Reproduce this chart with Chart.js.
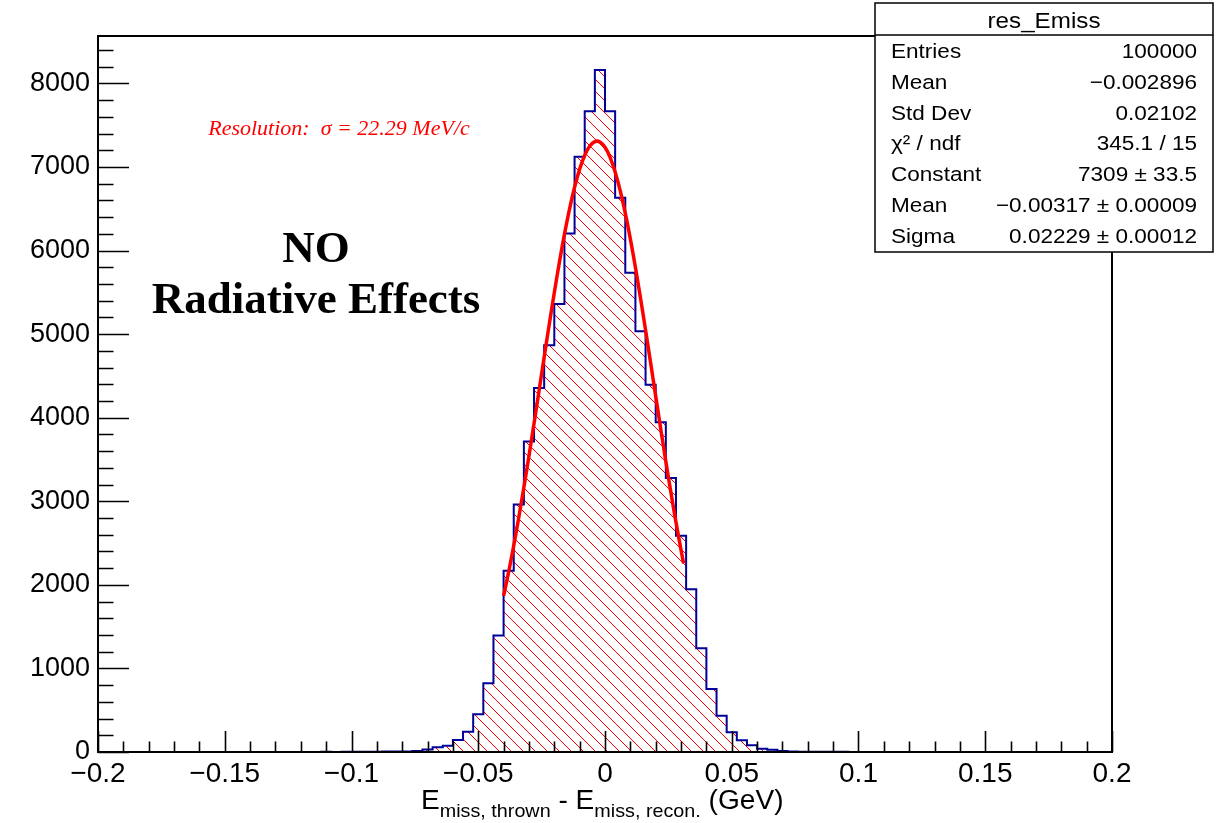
<!DOCTYPE html>
<html>
<head>
<meta charset="utf-8">
<script src="https://cdn.jsdelivr.net/npm/chart.js@4.4.1/dist/chart.umd.min.js"></script>
<style>
html,body{margin:0;padding:0;background:#fff;}
#wrap{position:relative;width:1228px;height:823px;}
</style>
</head>
<body>
<div id="wrap"><canvas id="c" width="1228" height="823"></canvas></div>
<script>
// ---------------- data ----------------
const binLow = -0.2;
const binWidth = 0.004;
const counts = [
  0,0,0,1,0,0,0,1,0,0,
  0,1,0,0,1,0,1,1,0,1,
  1,1,2,1,2,3,3,4,5,5,
  7,12,30,58,75,144,243,451,823,1393,
  2168,2960,3716,4356,4866,5361,6204,7122,7668,8159,
  7668,6631,5733,5034,4395,3944,3278,2587,1948,1242,
  754,433,235,140,80,38,28,12,6,4,
  3,3,2,2,1,1,1,0,1,0,
  0,1,0,0,1,0,0,0,1,0,
  0,0,0,1,0,0,0,0,0,0
];
const fitX = [-0.040,-0.038,-0.036,-0.034,-0.032,-0.030,-0.028,-0.026,-0.024,-0.022,
              -0.020,-0.018,-0.016,-0.014,-0.012,-0.010,-0.008,-0.006,-0.004,-0.002,
               0.000, 0.002, 0.004, 0.006, 0.008, 0.010, 0.012, 0.014, 0.016, 0.018,
               0.020, 0.022, 0.024, 0.026, 0.028, 0.030, 0.031];
const fitY = [1867,2156,2470,2808,3167,3542,3930,4326,4723,5116,
              5496,5858,6193,6496,6757,6974,7139,7250,7304,7299,
              7235,7115,6941,6716,6447,6139,5798,5433,5050,4656,
              4258,3863,3477,3104,2750,2416,2257];
const xTickValues = [-0.2,-0.15,-0.1,-0.05,0,0.05,0.1,0.15,0.2];
const xTickLabels = ['\u22120.2','\u22120.15','\u22120.1','\u22120.05','0','0.05','0.1','0.15','0.2'];
const yTickValues = [0,1000,2000,3000,4000,5000,6000,7000,8000];
const yTickLabels = ['0','1000','2000','3000','4000','5000','6000','7000','8000'];
const xRange = [-0.2, 0.2];
const yRange = [0, 8567];
const statsTitle = 'res_Emiss';
const statsLabels = ['Entries','Mean','Std Dev','\u03C7\u00B2 / ndf','Constant','Mean','Sigma'];
const statsValues = ['100000','\u22120.002896','0.02102','345.1 / 15','7309 \u00B1 33.5','\u22120.00317 \u00B1 0.00009','0.02229 \u00B1 0.00012'];
const resolutionText = 'Resolution:  \u03C3 = 22.29 MeV/c';
const bigText = ['NO', 'Radiative Effects'];

// ---------------- helpers ----------------
const histPoints = counts.map((c, i) => ({x: binLow + i * binWidth, y: c}));
histPoints.push({x: binLow + counts.length * binWidth, y: counts[counts.length - 1]});
const fitPoints = fitX.map((x, i) => ({x: x, y: fitY[i]}));

const canvas = document.getElementById('c');
const hatch = (() => {
  const n = 12;
  const c = document.createElement('canvas');
  c.width = n; c.height = n;
  const g = c.getContext('2d');
  g.strokeStyle = '#ff0000';
  g.lineWidth = 1;
  g.beginPath();
  for (const k of [-n, 0, n]) { g.moveTo(k, 0); g.lineTo(k + n, n); }
  g.stroke();
  return canvas.getContext('2d').createPattern(c, 'repeat');
})();

const SANS = '"Liberation Sans", Arial, Helvetica, sans-serif';
const SERIF = '"Liberation Serif", "Times New Roman", serif';
const HS = 1.1; // horizontal stretch of Helvetica-like text

function stretchedText(ctx, text, x, y, font, align, sx) {
  ctx.save();
  ctx.font = font;
  ctx.textBaseline = 'alphabetic';
  ctx.textAlign = 'left';
  const w = ctx.measureText(text).width * sx;
  let left = x;
  if (align === 'center') left = x - w / 2;
  else if (align === 'right') left = x - w;
  ctx.translate(left, y);
  ctx.scale(sx, 1);
  ctx.fillText(text, 0, 0);
  ctx.restore();
  return w;
}

const rootDecor = {
  id: 'rootDecor',
  afterDatasetsDraw(chart) {
    const {ctx, chartArea: a, scales: {x, y}} = chart;
    ctx.save();
    ctx.strokeStyle = '#000';
    ctx.lineWidth = 1.6;
    ctx.beginPath();
    for (let i = 0; i <= 40; i++) {
      const v = xRange[0] + i * 0.01;
      const px = Math.round(x.getPixelForValue(v)) + 0.5;
      const len = (i % 5 === 0) ? 21 : 10.5;
      ctx.moveTo(px, a.bottom);
      ctx.lineTo(px, a.bottom - len);
    }
    for (let i = 0; i * 200 <= yRange[1]; i++) {
      const v = i * 200;
      const py = Math.round(y.getPixelForValue(v)) + 0.5;
      const len = (i % 5 === 0) ? 31 : 15.5;
      ctx.moveTo(a.left, py);
      ctx.lineTo(a.left + len, py);
    }
    ctx.stroke();
    ctx.lineWidth = 2;
    ctx.strokeRect(a.left, a.top, a.right - a.left, a.bottom - a.top);
    ctx.restore();
  },
  afterDraw(chart) {
    const ctx = chart.ctx;
    ctx.save();
    ctx.fillStyle = '#000';
    // x-axis title with subscripts
    let cx = 421;
    const base = 809, subBase = 817;
    const mainF = '27px ' + SANS, subF = '19px ' + SANS, tS = 1.04;
    cx += stretchedText(ctx, 'E', cx, base, mainF, 'left', tS);
    cx += stretchedText(ctx, 'miss, thrown', cx, subBase, subF, 'left', tS);
    cx += stretchedText(ctx, ' - ', cx, base, mainF, 'left', tS);
    cx += stretchedText(ctx, 'E', cx, base, mainF, 'left', tS);
    cx += stretchedText(ctx, 'miss, recon.', cx, subBase, subF, 'left', tS);
    stretchedText(ctx, ' (GeV)', cx, base, mainF, 'left', tS);

    // red resolution text
    ctx.fillStyle = '#ff0000';
    ctx.font = 'italic 22px ' + SERIF;
    ctx.textAlign = 'center';
    ctx.textBaseline = 'alphabetic';
    ctx.fillText(resolutionText, 339, 135);

    // big bold label
    ctx.fillStyle = '#000';
    ctx.font = 'bold 45px ' + SERIF;
    ctx.fillText(bigText[0], 316, 262);
    ctx.fillText(bigText[1], 316, 313);

    // stats box
    const bx = 875, by = 3, bw = 338, bh = 249;
    ctx.fillStyle = '#fff';
    ctx.fillRect(bx, by, bw, bh);
    ctx.strokeStyle = '#000';
    ctx.lineWidth = 1.5;
    ctx.strokeRect(bx, by, bw, bh);
    ctx.beginPath();
    ctx.moveTo(bx, 35);
    ctx.lineTo(bx + bw, 35);
    ctx.stroke();
    ctx.fillStyle = '#000';
    stretchedText(ctx, statsTitle, bx + bw / 2, 28, '22px ' + SANS, 'center', HS);
    for (let i = 0; i < statsLabels.length; i++) {
      const yb = 58 + i * 30.8;
      stretchedText(ctx, statsLabels[i], 891, yb, '20.5px ' + SANS, 'left', HS);
      stretchedText(ctx, statsValues[i], 1197, yb, '20.5px ' + SANS, 'right', HS);
    }
    ctx.restore();
  }
};

new Chart(canvas, {
  type: 'line',
  data: {
    datasets: [
      {
        label: 'fit',
        data: fitPoints,
        borderColor: '#ff0000',
        borderWidth: 3.5,
        pointRadius: 0,
        fill: false,
        tension: 0.35,
        order: 0
      },
      {
        label: 'res_Emiss',
        data: histPoints,
        stepped: true,
        borderColor: '#000099',
        borderWidth: 2,
        pointRadius: 0,
        fill: 'origin',
        backgroundColor: hatch,
        order: 1
      }
    ]
  },
  options: {
    responsive: false,
    animation: false,
    devicePixelRatio: 1,
    layout: {padding: {top: 36, right: 116, left: 0, bottom: 0}},
    plugins: {legend: {display: false}, tooltip: {enabled: false}},
    scales: {
      x: {
        type: 'linear',
        min: xRange[0],
        max: xRange[1],
        grid: {display: false},
        border: {display: false},
        afterFit: s => { s.height = 71; },
        afterBuildTicks: s => { s.ticks = xTickValues.map(v => ({value: v})); },
        ticks: {
          autoSkip: false,
          maxRotation: 0,
          padding: -3,
          color: '#000',
          font: {family: SANS, size: 28},
          callback: (v, i) => xTickLabels[i]
        }
      },
      y: {
        type: 'linear',
        min: yRange[0],
        max: yRange[1],
        grid: {display: false},
        border: {display: false},
        afterFit: s => { s.width = 98; },
        afterBuildTicks: s => { s.ticks = yTickValues.map(v => ({value: v})); },
        ticks: {
          padding: 0,
          color: '#000',
          font: {family: SANS, size: 27},
          callback: (v, i) => yTickLabels[i]
        }
      }
    }
  },
  plugins: [rootDecor]
});
</script>
</body>
</html>
